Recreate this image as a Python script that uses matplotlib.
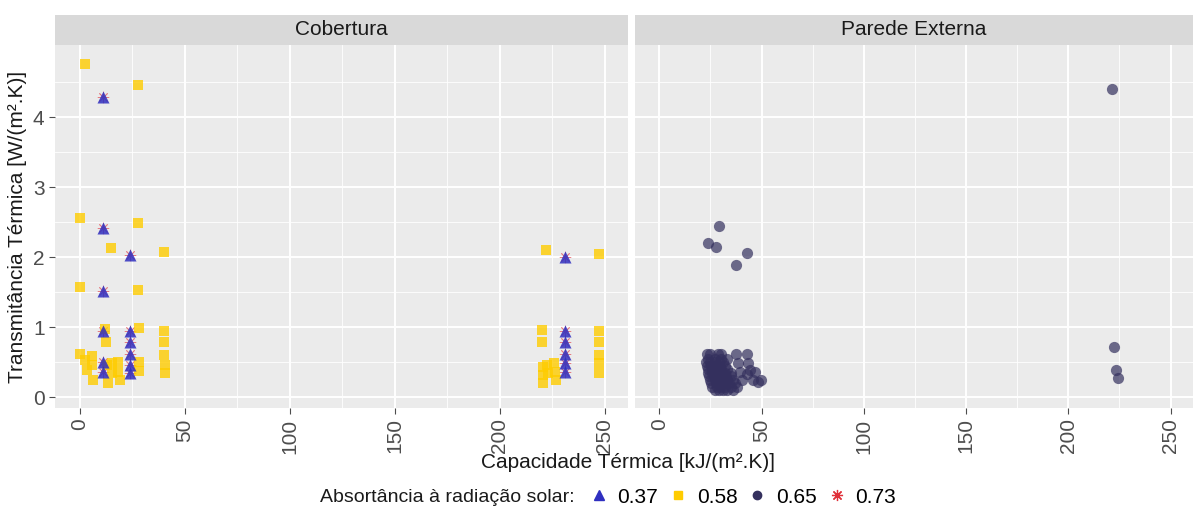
import numpy as np
import matplotlib.pyplot as plt
from matplotlib.lines import Line2D
from matplotlib.patches import Rectangle

plt.rcParams['font.family'] = ['Liberation Sans', 'DejaVu Sans']

# Cobertura - absortancia 0.37 (triangulos) e 0.73 (asteriscos, mesmas posicoes)
cob_037_x = [11, 11, 11, 11, 11, 11, 24, 24, 24, 24, 24, 24, 231, 231, 231, 231, 231, 231]
cob_037_y = [4.28, 2.42, 1.52, 0.95, 0.50, 0.36, 2.03, 0.95, 0.78, 0.61, 0.46, 0.34,
             2.00, 0.94, 0.78, 0.61, 0.48, 0.36]
cob_073_x = cob_037_x
cob_073_y = cob_037_y

# Cobertura - absortancia 0.58 (quadrados)
cob_058_x = [2.4, 27.5, 0, 27.5, 14.8, 40.2, 0, 27.5, 0, 12, 28, 40.2, 12.4, 40.2, 40.2,
             2.4, 3.2, 5.9, 5.9, 6.3, 13.5, 12.7, 15.1, 15.1, 18.3, 18.3, 19, 28.1, 28.1,
             40.5, 40.5,
             222, 247, 220, 247, 220, 247, 247, 247, 247,
             220.6, 220.6, 220.6, 222.2, 223, 225.7, 226.2, 226.7]
cob_058_y = [4.76, 4.46, 2.56, 2.48, 2.13, 2.07, 1.57, 1.53, 0.62, 0.97, 0.98, 0.95, 0.78,
             0.78, 0.60, 0.53, 0.39, 0.58, 0.46, 0.25, 0.20, 0.46, 0.48, 0.34, 0.50, 0.36,
             0.24, 0.50, 0.37, 0.46, 0.35,
             2.10, 2.04, 0.96, 0.95, 0.78, 0.78, 0.60, 0.48, 0.34,
             0.43, 0.31, 0.20, 0.46, 0.34, 0.48, 0.36, 0.24]

# Parede Externa - absortancia 0.65 (circulos)
par_065_x = [29.2, 24, 27.6, 42.7, 37.6, 221.3, 222.4, 223.2, 224.1,
             23.5, 25, 28.5, 30,
             24, 27, 30, 33,
             23, 25, 27, 29, 31,
             23.5, 25.5, 27.5, 29.5, 32,
             24, 26, 28, 30, 33,
             24, 26, 28, 30, 32, 35,
             24.5, 26.5, 28.5, 30.5, 32.5, 35,
             25, 27, 29, 31, 33, 36,
             25.5, 27.5, 29.5, 31.5, 34, 37,
             26, 28, 30, 32, 35, 38,
             27, 29, 31, 33, 36,
             37.6, 42.7, 38.7, 43.5, 39.5, 44.3, 40.3, 45.9, 48.2, 49.8, 42.7, 46.7]
par_065_y = [2.44, 2.20, 2.15, 2.06, 1.88, 4.40, 0.71, 0.39, 0.27,
             0.62, 0.62, 0.62, 0.62,
             0.55, 0.55, 0.55, 0.55,
             0.50, 0.50, 0.50, 0.50, 0.50,
             0.45, 0.45, 0.45, 0.45, 0.45,
             0.40, 0.40, 0.40, 0.40, 0.40,
             0.35, 0.35, 0.35, 0.35, 0.35, 0.35,
             0.30, 0.30, 0.30, 0.30, 0.30, 0.30,
             0.25, 0.25, 0.25, 0.25, 0.25, 0.25,
             0.20, 0.20, 0.20, 0.20, 0.20, 0.20,
             0.15, 0.15, 0.15, 0.15, 0.15, 0.15,
             0.10, 0.10, 0.10, 0.10, 0.10,
             0.61, 0.62, 0.48, 0.48, 0.36, 0.39, 0.24, 0.24, 0.22, 0.24, 0.33, 0.36]

panels = ['Cobertura', 'Parede Externa']
legend_labels = ['0.37', '0.58', '0.65', '0.73']

c_blue = '#2f2fc0'
c_yellow = '#ffcc00'
c_navy = '#34305e'
c_red = '#e0303a'
star = (8, 2, 0)

fig = plt.figure(figsize=(11.96, 5.11), dpi=100)
W, H = 1196, 511
ax1 = fig.add_axes([55 / W, 1 - 408 / H, 573 / W, 363 / H])
ax2 = fig.add_axes([635 / W, 1 - 408 / H, 558 / W, 363 / H], sharey=ax1)

ax1.scatter(cob_073_x, cob_073_y, marker=star, s=60, color=c_red, linewidths=0.6, alpha=0.6, zorder=3)
ax1.scatter(cob_058_x, cob_058_y, marker='s', s=50, color=c_yellow, linewidths=0, alpha=0.8, zorder=3)
ax1.scatter(cob_037_x, cob_037_y, marker='^', s=75, color=c_blue, linewidths=0, alpha=0.85, zorder=4)
ax2.scatter(par_065_x, par_065_y, marker='o', s=65, color=c_navy, linewidths=0, alpha=0.7, zorder=3)

for ax, name in zip([ax1, ax2], panels):
    ax.set_facecolor('#ebebeb')
    ax.set_xlim(-11.9, 261)
    ax.set_ylim(-0.157, 5.03)
    ax.set_xticks([0, 50, 100, 150, 200, 250])
    ax.set_xticks([25, 75, 125, 175, 225], minor=True)
    ax.set_yticks([0, 1, 2, 3, 4])
    ax.set_yticks([0.5, 1.5, 2.5, 3.5, 4.5], minor=True)
    ax.grid(True, which='major', color='white', linewidth=1.4, zorder=0)
    ax.grid(True, which='minor', color='white', linewidth=0.6, zorder=0)
    ax.set_axisbelow(True)
    for s in ax.spines.values():
        s.set_visible(False)
    ax.tick_params(axis='x', which='major', rotation=90, labelsize=15, colors='#4d4d4d', length=4)
    ax.tick_params(axis='y', which='major', labelsize=15, colors='#4d4d4d', length=4)
    ax.tick_params(which='minor', length=0)
    # faixa do titulo do painel
    ax.add_patch(Rectangle((0, 1.0), 1, 30 / 363, transform=ax.transAxes, facecolor='#d9d9d9',
                           edgecolor='none', clip_on=False, zorder=1))
    ax.text(0.5, 1.0 + 15 / 363, name, transform=ax.transAxes, ha='center', va='center',
            fontsize=15, color='#1a1a1a', zorder=2)

plt.setp(ax2.get_yticklabels(), visible=False)
ax2.tick_params(axis='y', length=0)

ax1.set_ylabel('Transmitância Térmica [W/(m².K)]', fontsize=15, color='#1a1a1a', labelpad=4)
fig.text(628 / W, 1 - 462 / H, 'Capacidade Térmica [kJ/(m².K)]', ha='center', va='center',
         fontsize=15, color='#1a1a1a')

fig.text(575 / W, 1 - 497 / H, 'Absortância à radiação solar:', ha='right', va='center',
         fontsize=14, color='#1a1a1a')
handles = [
    Line2D([], [], marker='^', color=c_blue, linestyle='none', markersize=7),
    Line2D([], [], marker='s', color=c_yellow, linestyle='none', markersize=6),
    Line2D([], [], marker='o', color=c_navy, linestyle='none', markersize=6),
    Line2D([], [], marker=star, color=c_red, linestyle='none', markersize=8, markeredgewidth=0.9),
]
fig.legend(handles, legend_labels, loc='center left', bbox_to_anchor=(578 / W, 1 - 497 / H),
           ncol=4, frameon=False, fontsize=15, handlelength=1.0, handletextpad=0.4,
           columnspacing=0.45, borderpad=0)

fig.savefig('out.png', dpi=100, facecolor='white')
